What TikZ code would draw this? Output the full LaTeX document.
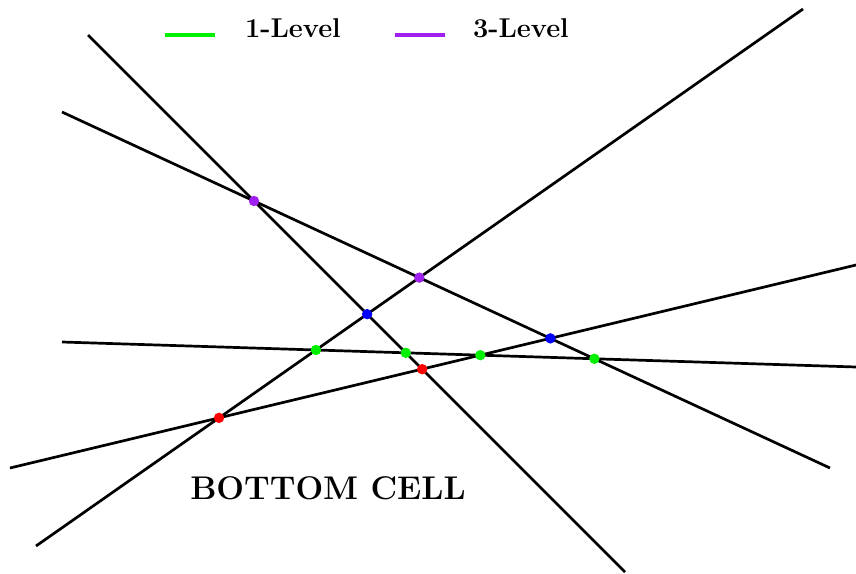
\documentclass[tikz,border=0pt]{standalone}
\usetikzlibrary{calc}
\definecolor{lvlgreen}{RGB}{0,240,0}
\definecolor{lvlpurple}{RGB}{160,32,240}
\begin{document}
\begin{tikzpicture}[x=0.5pt,y=-0.5pt,
  ln/.style={line width=1.35pt,black},
  dot/.style={circle,inner sep=0pt,minimum size=5.2pt,fill=#1},
  leg/.style={line width=1.6pt,#1},
  legtxt/.style={font=\fontsize{13.6}{16}\selectfont\bfseries,anchor=west}]
\useasboundingbox (0,0) rectangle (856,573);
% line end points
\coordinate (a1) at (88,35);  \coordinate (a2) at (625,572);
\coordinate (b1) at (62,112); \coordinate (b2) at (830,468);
\coordinate (c1) at (36,546); \coordinate (c2) at (803,9);
\coordinate (d1) at (62,342); \coordinate (d2) at (856,367);
\coordinate (e1) at (10,468); \coordinate (e2) at (856,265);
\draw[ln] (a1) -- (a2);
\draw[ln] (b1) -- (b2);
\draw[ln] (c1) -- (c2);
\draw[ln] (d1) -- (d2);
\draw[ln] (e1) -- (e2);
% intersections
\node[dot=lvlpurple] (pab) at (intersection of a1--a2 and b1--b2) {};
\node[dot=lvlpurple] (pbc) at (intersection of b1--b2 and c1--c2) {};
\node[dot=blue] (pac) at (intersection of a1--a2 and c1--c2) {};
\node[dot=blue] (pbe) at (intersection of b1--b2 and e1--e2) {};
\node[dot=lvlgreen] (pcd) at (intersection of c1--c2 and d1--d2) {};
\node[dot=lvlgreen] (pad) at (intersection of a1--a2 and d1--d2) {};
\node[dot=lvlgreen] (pde) at (intersection of d1--d2 and e1--e2) {};
\node[dot=lvlgreen] (pbd) at (intersection of b1--b2 and d1--d2) {};
\node[dot=red] (pae) at (intersection of a1--a2 and e1--e2) {};
\node[dot=red] (pce) at (intersection of c1--c2 and e1--e2) {};
% legend
\coordinate (g1) at (165,35); \coordinate (g2) at (215,35);
\draw[leg=lvlgreen] (g1) -- (g2);
\node[legtxt] (t1) at (238,28) {1-Level};
\coordinate (h1) at (395,35); \coordinate (h2) at (445,35);
\draw[leg=lvlpurple] (h1) -- (h2);
\node[legtxt] (t3) at (466,28) {3-Level};
% label
\node[font=\fontsize{16.4}{19}\selectfont\bfseries] (bc) at (328,488) {BOTTOM CELL};
\end{tikzpicture}
\end{document}
